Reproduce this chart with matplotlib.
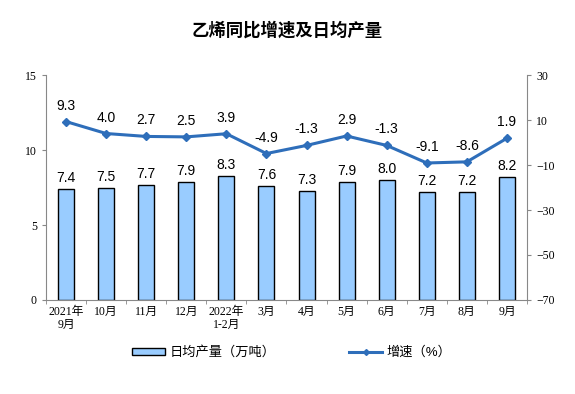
import matplotlib.pyplot as plt
import numpy as np

plt.rcParams['font.family'] = ['Liberation Sans', 'Noto Sans CJK SC']

# data
months = ['2021年\n9月', '10月', '11月', '12月', '2022年\n1-2月', '3月',
          '4月', '5月', '6月', '7月', '8月', '9月']
daily_output = [7.4, 7.5, 7.7, 7.9, 8.3, 7.6, 7.3, 7.9, 8.0, 7.2, 7.2, 8.2]
growth = [9.3, 4.0, 2.7, 2.5, 3.9, -4.9, -1.3, 2.9, -1.3, -9.1, -8.6, 1.9]

bar_color = '#99CCFF'
line_color = '#2E6EBA'
serif = ['Liberation Serif', 'Noto Sans CJK SC']

fig = plt.figure(figsize=(5.75, 3.94), dpi=100)
ax = fig.add_axes([0.08, 0.2386, 0.8365, 0.571])
x = np.arange(len(months))

ax.bar(x, daily_output, width=0.4, color=bar_color, edgecolor='black',
       linewidth=1.0, zorder=2)
for xi, v in zip(x, daily_output):
    ax.text(xi, v + 0.25, f'{v:.1f}', ha='center', va='bottom', fontsize=10)

ax.set_xlim(-0.5, len(months) - 0.5)
ax.set_ylim(0, 15)
ax.set_yticks([0, 5, 10, 15])
ax.set_xticks(x)
ax.set_xticklabels(months, fontsize=8.5, family=serif, linespacing=1.1)
ax.set_xticks(np.arange(-0.5, len(months), 1), minor=True)
ax.tick_params(axis='x', which='major', length=0, pad=4)
ax.tick_params(axis='x', which='minor', length=3, color='#888888')
ax.tick_params(axis='y', length=3, color='#888888', labelsize=8.5)
for lab in ax.get_yticklabels():
    lab.set_family(serif)
for s in ['top', 'right']:
    ax.spines[s].set_visible(False)
ax.spines['left'].set_color('#888888')
ax.spines['bottom'].set_color('#888888')

ax2 = ax.twinx()
ax2.plot(x, growth, color=line_color, linewidth=2.2, marker='D',
         markersize=4, zorder=3)
for xi, v in zip(x, growth):
    ax2.text(xi, v + 4, f'{v:.1f}', ha='center', va='bottom', fontsize=10)
ax2.set_ylim(-70, 30)
ax2.set_yticks([-70, -50, -30, -10, 10, 30])
ax2.tick_params(axis='y', length=3, color='#888888', labelsize=8.5)
for lab in ax2.get_yticklabels():
    lab.set_family(serif)
for s in ['top', 'left', 'bottom']:
    ax2.spines[s].set_visible(False)
ax2.spines['right'].set_color('#888888')

fig.text(0.5, 0.925, '乙烯同比增速及日均产量', ha='center', va='center',
         fontsize=12.5, fontweight='bold')

h1 = plt.Rectangle((0, 0), 1, 1, facecolor=bar_color, edgecolor='black')
h2, = ax2.plot([], [], color=line_color, linewidth=2.2, marker='D', markersize=3)
fig.legend([h1, h2], ['日均产量（万吨）', '增速（%）'], loc='center',
           bbox_to_anchor=(0.507, 0.105), ncol=2, frameon=False, fontsize=9.5,
           columnspacing=5.6, handlelength=2.5, handleheight=0.5,
           handletextpad=0.3)

fig.savefig('out.png', dpi=100)
